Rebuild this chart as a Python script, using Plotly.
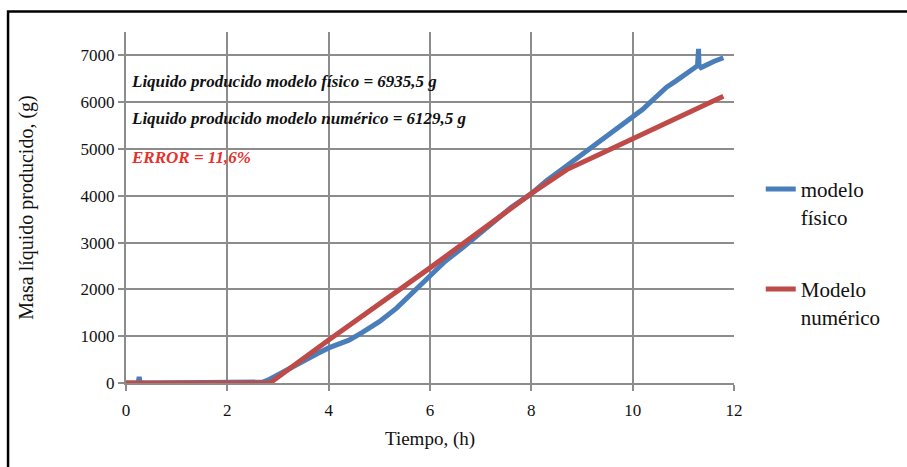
import plotly.graph_objects as go

# Data
t_fisico = [0, 0.24, 0.26, 0.28, 0.5, 1.0, 2.0, 2.6, 2.7, 2.8, 2.9, 3.0, 3.2, 3.4, 3.6, 3.8,
            4.0, 4.2, 4.4, 4.65, 4.8, 5.0, 5.34, 5.6, 6.0, 6.3, 6.66, 7.0, 7.32, 7.6, 8.0,
            8.3, 8.6, 8.9, 9.1, 9.36, 9.7, 10.0, 10.2, 10.35, 10.5, 10.67, 10.85, 11.0,
            11.2, 11.28, 11.3, 11.31, 11.35, 11.45, 11.6, 11.79]
m_fisico = [0, 0, 130, 0, 0, 0, 0, 0, 20, 60, 120, 180, 300, 410, 530, 640,
            750, 830, 915, 1070, 1170, 1310, 1600, 1870, 2300, 2600, 2905, 3200, 3490, 3750, 4045,
            4320, 4560, 4800, 4980, 5190, 5450, 5680, 5850, 6000, 6160, 6320, 6450, 6570,
            6700, 6780, 7140, 6790, 6740, 6800, 6870, 6950]

t_numerico = [0, 2.84, 4.0, 6.0, 8.0, 8.7, 9.36, 10.0, 11.79]
m_numerico = [0, 0, 920, 2460, 4050, 4560, 4894, 5218, 6125]

x_ticks = [0, 2, 4, 6, 8, 10, 12]
y_ticks = [0, 1000, 2000, 3000, 4000, 5000, 6000, 7000]

notes = ["Liquido producido modelo físico = 6935,5 g",
         "Liquido producido modelo numérico = 6129,5 g",
         "ERROR = 11,6%"]
note_y = [6445, 5650, 4823]
note_colors = ["#111111", "#111111", "#E8302A"]

BLUE = "#4A7EBB"
RED = "#BE4B48"
GRID = "#8C8C8C"
FONT = "Liberation Serif"

fig = go.Figure()
fig.add_trace(go.Scatter(x=t_fisico, y=m_fisico, mode="lines", name="modelo<br>físico",
                         line=dict(color=BLUE, width=5), legend="legend"))
fig.add_trace(go.Scatter(x=t_numerico, y=m_numerico, mode="lines", name="Modelo<br>numérico",
                         line=dict(color=RED, width=5), legend="legend2"))

for txt, yy, col in zip(notes, note_y, note_colors):
    fig.add_annotation(x=0.06, y=yy, xref="x", yref="y", text="<b><i>" + txt + "</i></b>",
                       showarrow=False, xanchor="left", yanchor="middle",
                       font=dict(family=FONT, size=17, color=col))

# outer frame
fig.add_shape(type="rect", xref="paper", yref="paper", x0=-0.194, x1=1.35, y0=-0.35, y1=1.0586,
              line=dict(color="black", width=2.5), fillcolor="rgba(0,0,0,0)", layer="below")

axis_common = dict(showgrid=True, gridcolor=GRID, gridwidth=2, showline=True, linecolor=GRID,
                   linewidth=2, ticks="outside", tickcolor=GRID, ticklen=6, tickwidth=2,
                   zeroline=False, tickfont=dict(family=FONT, size=17, color="#111111"))

fig.update_layout(
    width=907, height=467,
    margin=dict(l=126, r=173, t=31.6, b=84),
    paper_bgcolor="white", plot_bgcolor="white",
    font=dict(family=FONT, color="#111111"),
    xaxis=dict(range=[0, 12], tickvals=x_ticks, ticklabelstandoff=5,
               title=dict(text="Tiempo, (h)", font=dict(family=FONT, size=19), standoff=12),
               **axis_common),
    yaxis=dict(range=[0, 7500], tickvals=y_ticks,
               title=dict(text="Masa líquido producido, (g)", font=dict(family=FONT, size=20), standoff=42),
               **axis_common),
    legend=dict(x=1.044, y=0.61, xanchor="left", yanchor="top", valign="top",
                font=dict(family=FONT, size=21, color="#111111"), bgcolor="rgba(0,0,0,0)"),
    legend2=dict(x=1.044, y=0.325, xanchor="left", yanchor="top", valign="top",
                 font=dict(family=FONT, size=21, color="#111111"), bgcolor="rgba(0,0,0,0)"),
    showlegend=True,
)

fig.write_html("out.html")
